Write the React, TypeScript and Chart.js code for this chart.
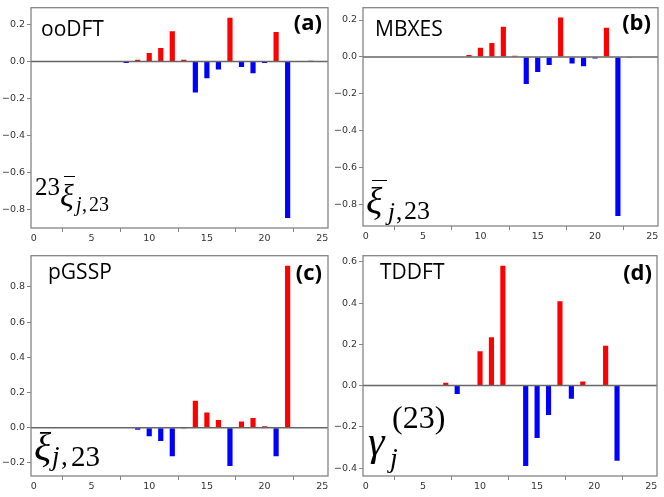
import React, { useRef, useEffect } from 'react';
import { Chart, registerables } from 'chart.js';

Chart.register(...registerables);

// orbital index j
const jIndex = [7, 8, 9, 10, 11, 12, 13, 14, 15, 16, 17, 18, 19, 20, 21, 22, 23, 24];

const ooDFT = [0, -0.009, 0.009, 0.046, 0.073, 0.163, 0.009, -0.168, -0.091, -0.043, 0.236, -0.03, -0.064, -0.009, 0.159, -0.845, -0.003, 0.004];
const mbxes = [0, -0.003, 0.011, 0.05, 0.075, 0.164, 0.007, -0.146, -0.082, -0.044, 0.213, -0.036, -0.05, -0.009, 0.158, -0.862, -0.005, 0];
const pgssp = [0, 0.004, -0.011, -0.048, -0.075, -0.162, -0.004, 0.154, 0.086, 0.044, -0.217, 0.035, 0.055, 0.009, -0.162, 0.92, 0.004, 0];
const tddft = [0.014, -0.041, 0, 0.166, 0.234, 0.581, 0, -0.39, -0.254, -0.143, 0.409, -0.064, 0.02, 0, 0.193, -0.365, 0, 0];

const xTicks = [0, 5, 10, 15, 20, 25];
const yTicksA = [-0.8, -0.6, -0.4, -0.2, 0, 0.2];
const yTicksB = [-0.8, -0.6, -0.4, -0.2, 0, 0.2];
const yTicksC = [-0.2, 0, 0.2, 0.4, 0.6, 0.8];
const yTicksD = [-0.4, -0.2, 0, 0.2, 0.4, 0.6];

const RED = '#ff0000';
const BLUE = '#0000ff';
const TICK_FONT = { family: 'DejaVu Sans', size: 9.5 };

const fmt = (v: number) => {
  const s = Number(v).toFixed(1);
  if (s === '-0.0') return '0.0';
  return s.replace('-', '\u2212');
};

// box around the plot + zero line, like matplotlib spines + axhline
const framePlugin = {
  id: 'frame',
  afterDatasetsDraw(chart: any) {
    const { ctx, chartArea: a, scales } = chart;
    const y0 = scales.y.getPixelForValue(0);
    ctx.save();
    ctx.strokeStyle = '#666';
    ctx.lineWidth = 1.4;
    ctx.beginPath();
    ctx.moveTo(a.left, y0);
    ctx.lineTo(a.right, y0);
    ctx.stroke();
    ctx.strokeStyle = '#858585';
    ctx.lineWidth = 1.3;
    ctx.strokeRect(a.left, a.top, a.right - a.left, a.bottom - a.top);
    ctx.restore();
  },
};

interface PanelProps {
  values: number[];
  yTicks: number[];
  box: [number, number, number, number]; // canvas left, top, width, height
  plot: [number, number, number, number]; // plot left, top, right, bottom
}

const Panel: React.FC<PanelProps> = ({ values, yTicks, box, plot }) => {
  const ref = useRef<HTMLCanvasElement>(null);
  const [left, top, width, height] = box;
  const [pl, pt, pr, pb] = plot;

  useEffect(() => {
    if (!ref.current) return;
    const lo = Math.min(0, ...values);
    const hi = Math.max(0, ...values);
    const pad = (hi - lo) * 0.05;
    const chart = new Chart(ref.current, {
      type: 'bar',
      data: {
        datasets: [
          {
            data: jIndex.map((j, i) => ({ x: j, y: values[i] })),
            backgroundColor: (c: any) => (c.raw && c.raw.y < 0 ? BLUE : RED),
            borderWidth: 0,
            barPercentage: 0.45,
            categoryPercentage: 1,
          },
        ],
      },
      options: {
        responsive: false,
        animation: false,
        layout: { padding: { left: 0, top: pt - top, right: left + width - pr, bottom: 0 } },
        plugins: { legend: { display: false }, tooltip: { enabled: false } },
        scales: {
          x: {
            type: 'linear',
            min: -0.25,
            max: 25.5,
            offset: false,
            afterBuildTicks: (s: any) => { s.ticks = xTicks.map((value) => ({ value })); },
            afterFit: (s: any) => { s.height = top + height - pb; },
            grid: { display: true, drawOnChartArea: false, drawTicks: true, tickLength: 4, color: '#858585' },
            border: { display: false },
            ticks: { font: TICK_FONT, color: '#333', padding: 1, maxRotation: 0, callback: (v: any) => String(v) },
          },
          y: {
            type: 'linear',
            min: lo - pad,
            max: hi + pad,
            afterBuildTicks: (s: any) => { s.ticks = yTicks.map((value) => ({ value })); },
            afterFit: (s: any) => { s.width = pl - left; },
            grid: { display: true, drawOnChartArea: false, drawTicks: true, tickLength: 4, color: '#858585' },
            border: { display: false },
            ticks: { font: TICK_FONT, color: '#333', padding: 2, callback: (v: any) => fmt(v) },
          },
        },
      },
      plugins: [framePlugin],
    } as any);
    return () => chart.destroy();
  }, [values, yTicks]);

  return (
    <canvas
      ref={ref}
      width={width}
      height={height}
      style={{ position: 'absolute', left, top, width, height }}
    />
  );
};

// text placed by its baseline
const SERIF = 'Liberation Serif';
const SANS = 'Open Sans';
const T: React.FC<{ x: number; b: number; s: number; f?: string; i?: boolean; w?: number; right?: boolean; children: React.ReactNode }> = ({ x, b, s, f = SERIF, i, w, right, children }) => {
  const k = f === SANS ? 0.888 : 0.8375;
  const style: React.CSSProperties = {
    position: 'absolute',
    top: b - k * s,
    fontFamily: f,
    fontSize: s,
    lineHeight: 1,
    fontStyle: i ? 'italic' : 'normal',
    fontWeight: w || 400,
    whiteSpace: 'nowrap',
    color: '#000',
  };
  if (right) style.right = 664 - x;
  else style.left = x;
  return <span style={style}>{children}</span>;
};

const Bar: React.FC<{ x: number; y: number; w: number }> = ({ x, y, w }) => (
  <div style={{ position: 'absolute', left: x, top: y, width: w, height: 1.4, background: '#000' }} />
);

export default function App() {
  return (
    <div style={{ position: 'absolute', left: 0, top: 0, width: 664, height: 497, background: '#fff', overflow: 'hidden' }}>
      <Panel values={ooDFT} yTicks={yTicksA} box={[0, 0, 332, 248]} plot={[31, 5, 328, 228]} />
      <Panel values={mbxes} yTicks={yTicksB} box={[332, 0, 332, 248]} plot={[363, 5, 658, 226]} />
      <Panel values={pgssp} yTicks={yTicksC} box={[0, 248, 332, 249]} plot={[31, 250, 328, 476]} />
      <Panel values={tddft} yTicks={yTicksD} box={[332, 248, 332, 249]} plot={[363, 250, 657, 476]} />

      <T x={41} b={37} s={21} f={SANS}>ooDFT</T>
      <T x={322} b={30} s={22} f={SANS} w={700} right>(a)</T>
      <T x={375} b={37} s={21} f={SANS}>MBXES</T>
      <T x={651} b={30} s={22} f={SANS} w={700} right>(b)</T>
      <T x={48} b={280} s={21} f={SANS}>pGSSP</T>
      <T x={322} b={280} s={22} f={SANS} w={700} right>(c)</T>
      <T x={380} b={280} s={21} f={SANS}>TDDFT</T>
      <T x={652} b={280} s={22} f={SANS} w={700} right>(d)</T>

      {/* (a) 23 ξ̄_{j,23} */}
      <T x={35} b={195} s={25}>23</T>
      <T x={60} b={206} s={32} i>ξ</T>
      <Bar x={64} y={176} w={11} />
      <T x={76} b={211} s={20} i>j</T>
      <T x={82} b={211} s={20}>,</T>
      <T x={89} b={211} s={20}>23</T>

      {/* (b) ξ̄_{j,23} */}
      <T x={366} b={214} s={38} i>ξ</T>
      <Bar x={372} y={180} w={15} />
      <T x={388} b={220} s={25} i>j</T>
      <T x={396} b={220} s={25}>,</T>
      <T x={404} b={220} s={26}>23</T>

      {/* (c) ξ_{j,23} */}
      <T x={34} b={460} s={40} i>ξ</T>
      <T x={52} b={466} s={27} i>j</T>
      <T x={61} b={466} s={27}>,</T>
      <T x={71} b={466} s={29}>23</T>

      {/* (d) γ_j^{(23)} */}
      <T x={368} b={455} s={42} i>γ</T>
      <T x={390} b={467} s={28} i>j</T>
      <T x={392} b={428} s={32}>(23)</T>
    </div>
  );
}
